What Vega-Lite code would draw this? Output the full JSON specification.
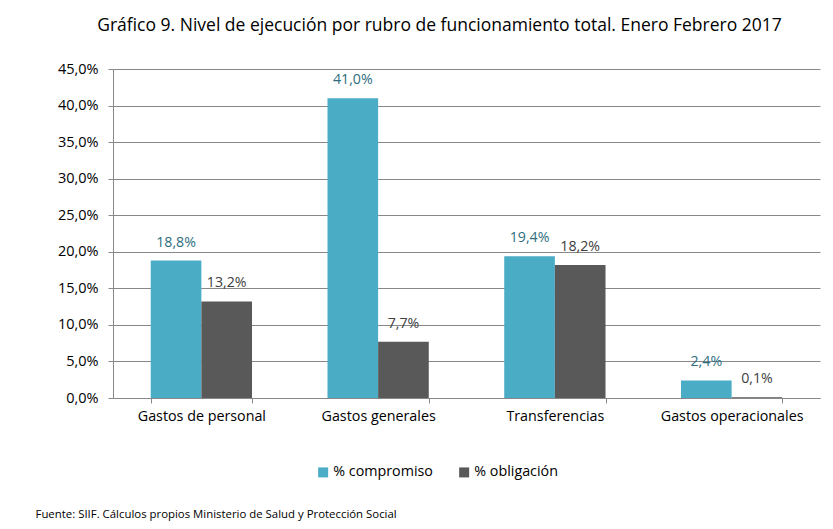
{
  "$schema": "https://vega.github.io/schema/vega-lite/v6.json",
  "width": 707,
  "height": 329,
  "autosize": {"type": "none"},
  "padding": {"left": 113, "top": 69, "right": 13, "bottom": 131},
  "background": "white",
  "config": {
    "font": "Open Sans",
    "view": {"stroke": null},
    "locale": {
      "number": {"decimal": ",", "thousands": ".", "grouping": [3], "currency": ["$", ""]}
    }
  },
  "title": {
    "text": "Gráfico 9. Nivel de ejecución por rubro de funcionamiento total. Enero Febrero 2017",
    "fontSize": 17.5,
    "fontWeight": "normal",
    "color": "#000000",
    "anchor": "middle",
    "offset": 27,
    "dx": -27
  },
  "data": {
    "values": [
      {"rubro": "Gastos de personal", "serie": "% compromiso", "valor": 0.188},
      {"rubro": "Gastos de personal", "serie": "% obligación", "valor": 0.132},
      {"rubro": "Gastos generales", "serie": "% compromiso", "valor": 0.41},
      {"rubro": "Gastos generales", "serie": "% obligación", "valor": 0.077},
      {"rubro": "Transferencias", "serie": "% compromiso", "valor": 0.194},
      {"rubro": "Transferencias", "serie": "% obligación", "valor": 0.182},
      {"rubro": "Gastos operacionales", "serie": "% compromiso", "valor": 0.024},
      {"rubro": "Gastos operacionales", "serie": "% obligación", "valor": 0.001}
    ]
  },
  "encoding": {
    "x": {
      "field": "rubro",
      "type": "nominal",
      "sort": null,
      "scale": {"paddingInner": 0.427, "paddingOuter": 0.2135},
      "axis": {
        "domainColor": "#888888",
        "tickColor": "#888888",
        "tickSize": 5,
        "tickBand": "extent",
        "labelAngle": 0,
        "labelFontSize": 14.3,
        "labelColor": "#000000",
        "labelPadding": 6,
        "title": "Fuente: SIIF. Cálculos propios Ministerio de Salud y Protección Social",
        "titleAnchor": "start",
        "titleAlign": "left",
        "titleX": -78,
        "titleY": 116,
        "titleBaseline": "middle",
        "titleFontSize": 11.4,
        "titleFontWeight": "normal",
        "titleColor": "#000000"
      }
    },
    "xOffset": {
      "field": "serie",
      "type": "nominal",
      "sort": ["% compromiso", "% obligación"],
      "scale": {"paddingInner": 0, "paddingOuter": 0}
    },
    "y": {
      "field": "valor",
      "type": "quantitative",
      "scale": {"domain": [0, 0.45], "nice": false},
      "axis": {
        "values": [0, 0.05, 0.1, 0.15, 0.2, 0.25, 0.3, 0.35, 0.4, 0.45],
        "format": ".1%",
        "domainColor": "#888888",
        "gridColor": "#888888",
        "tickColor": "#888888",
        "tickSize": 5,
        "labelFontSize": 14.5,
        "labelColor": "#000000",
        "labelPadding": 10,
        "title": null
      }
    }
  },
  "layer": [
    {
      "mark": {"type": "bar"},
      "encoding": {
        "color": {
          "field": "serie",
          "type": "nominal",
          "scale": {"domain": ["% compromiso", "% obligación"], "range": ["#4BACC6", "#595959"]},
          "legend": {
            "orient": "none",
            "legendX": 203,
            "legendY": 396,
            "direction": "horizontal",
            "title": null,
            "symbolType": "square",
            "symbolSize": 100,
            "symbolStrokeWidth": 0,
            "symbolOpacity": 1,
            "labelFontSize": 14.3,
            "labelColor": "#000000",
            "labelOffset": 3,
            "columnPadding": 24
          }
        }
      }
    },
    {
      "mark": {"type": "text", "baseline": "middle", "dy": -18, "fontSize": 14.2},
      "encoding": {
        "text": {"field": "valor", "type": "quantitative", "format": ".1%"},
        "color": {
          "condition": {"test": "datum.serie == '% compromiso'", "value": "#2E6E80"},
          "value": "#404040"
        }
      }
    }
  ]
}
